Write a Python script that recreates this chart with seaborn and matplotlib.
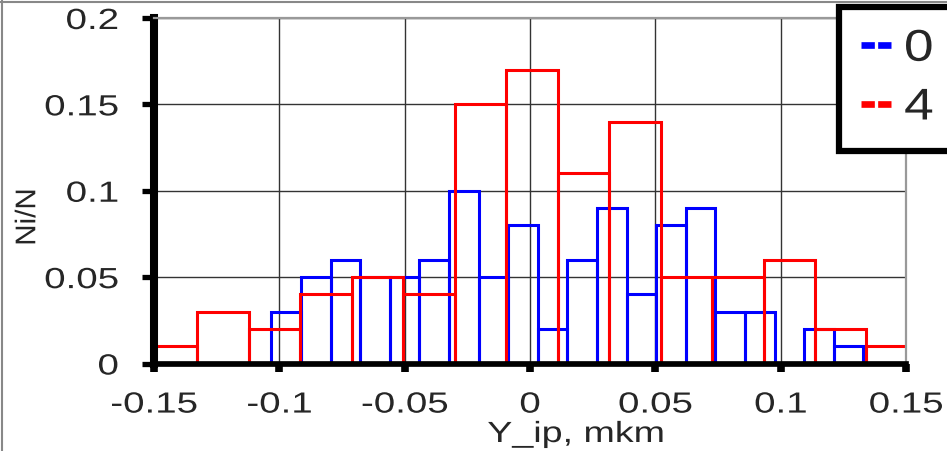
import numpy as np
import pandas as pd
import matplotlib.pyplot as plt
import seaborn as sns
from matplotlib.lines import Line2D
from matplotlib.patheffects import AbstractPathEffect
from matplotlib.transforms import Affine2D

# Histogram data (Ni/N per bin)
blue_label = "0"
blue_start = -0.1032
blue_width = 0.01181
blue_vals = [0.03, 0.05, 0.06, 0.05, 0.05, 0.06, 0.10, 0.05, 0.08, 0.02,
             0.06, 0.09, 0.04, 0.08, 0.09, 0.03, 0.03, 0.00, 0.02, 0.01]

red_label = "4"
red_start = -0.1532
red_width = 0.02053
red_vals = [0.01, 0.03, 0.02, 0.04, 0.05, 0.04, 0.15, 0.17, 0.11, 0.14,
            0.05, 0.05, 0.06, 0.02, 0.01]

x_ticks = [-0.15, -0.1, -0.05, 0, 0.05, 0.1, 0.15]
x_ticklabels = ["-0.15", "-0.1", "-0.05", "0", "0.05", "0.1", "0.15"]
y_ticks = [0, 0.05, 0.1, 0.15, 0.2]
y_ticklabels = ["0", "0.05", "0.1", "0.15", "0.2"]


class HStretch(AbstractPathEffect):
    # the source chart has horizontally stretched lettering
    def __init__(self, sx, anchor="center"):
        super().__init__()
        self.sx = sx
        self.anchor = anchor

    def draw_path(self, renderer, gc, tpath, affine, rgbFace=None):
        ext = tpath.get_extents()
        cx = {"center": (ext.x0 + ext.x1) / 2, "left": ext.x0,
              "right": ext.x1}[self.anchor]
        t = Affine2D().translate(-cx, 0).scale(self.sx, 1).translate(cx, 0)
        renderer.draw_path(gc, tpath, t + affine, rgbFace)


def to_frame(start, width, vals):
    centers = start + width * (np.arange(len(vals)) + 0.5)
    return pd.DataFrame({"y_ip": centers, "share": vals})


sns.set_style("white")
plt.rcParams["font.family"] = ["Liberation Sans", "DejaVu Sans"]

fig = plt.figure(figsize=(9.47, 4.52), dpi=100)
ax = fig.add_axes([154 / 947, 1 - 364.5 / 452, 752 / 947, 345.5 / 452])

for start, width, vals, col in [(blue_start, blue_width, blue_vals, "blue"),
                                (red_start, red_width, red_vals, "red")]:
    df = to_frame(start, width, vals)
    sns.histplot(data=df, x="y_ip", weights="share", bins=len(vals),
                 binrange=(start, start + width * len(vals)),
                 element="bars", fill=False, color=col, linewidth=2.2, ax=ax)

ax.set_xlim(-0.15, 0.15)
ax.set_ylim(0, 0.2)
ax.set_xticks(x_ticks)
ax.set_xticklabels(x_ticklabels)
ax.set_yticks(y_ticks)
ax.set_yticklabels(y_ticklabels)
ax.set_axisbelow(True)
ax.grid(True, color="#333333", linewidth=1)

ax.set_xlabel("Y_ip, mkm", fontsize=21)
ax.xaxis.label.set_va("baseline")
ax.xaxis.set_label_coords(0.561, -0.2272)
ax.set_ylabel("Ni/N", fontsize=20.5)
ax.yaxis.label.set_va("center")
ax.yaxis.set_label_coords(-0.1672, 0.424)

ax.tick_params(axis="y", direction="out", length=8.6, width=3.8, pad=17,
               labelsize=21, color="black", left=True)
ax.tick_params(axis="x", direction="out", length=6, width=5.5, pad=13.5,
               labelsize=21, color="black", bottom=True)

ax.spines["left"].set_color("black")
ax.spines["left"].set_linewidth(5.8)
ax.spines["bottom"].set_color("black")
ax.spines["bottom"].set_linewidth(4.1)
for side in ["top", "right"]:
    ax.spines[side].set_color("#999999")
    ax.spines[side].set_linewidth(1.6)

for lab in ax.get_xticklabels():
    lab.set_path_effects([HStretch(1.32, "center")])
for lab in ax.get_yticklabels():
    lab.set_path_effects([HStretch(1.32, "right")])
ax.xaxis.label.set_path_effects([HStretch(1.29, "center")])
ax.yaxis.label.set_path_effects([HStretch(1.04, "center")])

handles = [Line2D([0], [0], color="blue", lw=4.8, linestyle=(0, (2, 0.5))),
           Line2D([0], [0], color="red", lw=4.8, linestyle=(0, (2, 0.5)))]
leg = ax.legend(handles, [blue_label, red_label], loc="upper left",
                bbox_to_anchor=(838.5 / 947, 1 - 7.5 / 452),
                bbox_transform=fig.transFigure, fontsize=32, frameon=True,
                fancybox=False, edgecolor="black", framealpha=1,
                borderaxespad=0, borderpad=0.5, handlelength=0.68,
                handletextpad=0.3, labelspacing=0.4)
leg.get_frame().set_linewidth(4.5)
for t in leg.get_texts():
    t.set_path_effects([HStretch(1.2, "left")])

# thin grey frame of the original picture (top and left edges only)
fig.add_artist(Line2D([0, 1], [1 - 2.5 / 452] * 2, transform=fig.transFigure,
                      color="#888888", lw=1.5, zorder=-1))
fig.add_artist(Line2D([1.8 / 947] * 2, [0, 1], transform=fig.transFigure,
                      color="#888888", lw=1.5, zorder=-1))

fig.savefig("out.png", dpi=100)
